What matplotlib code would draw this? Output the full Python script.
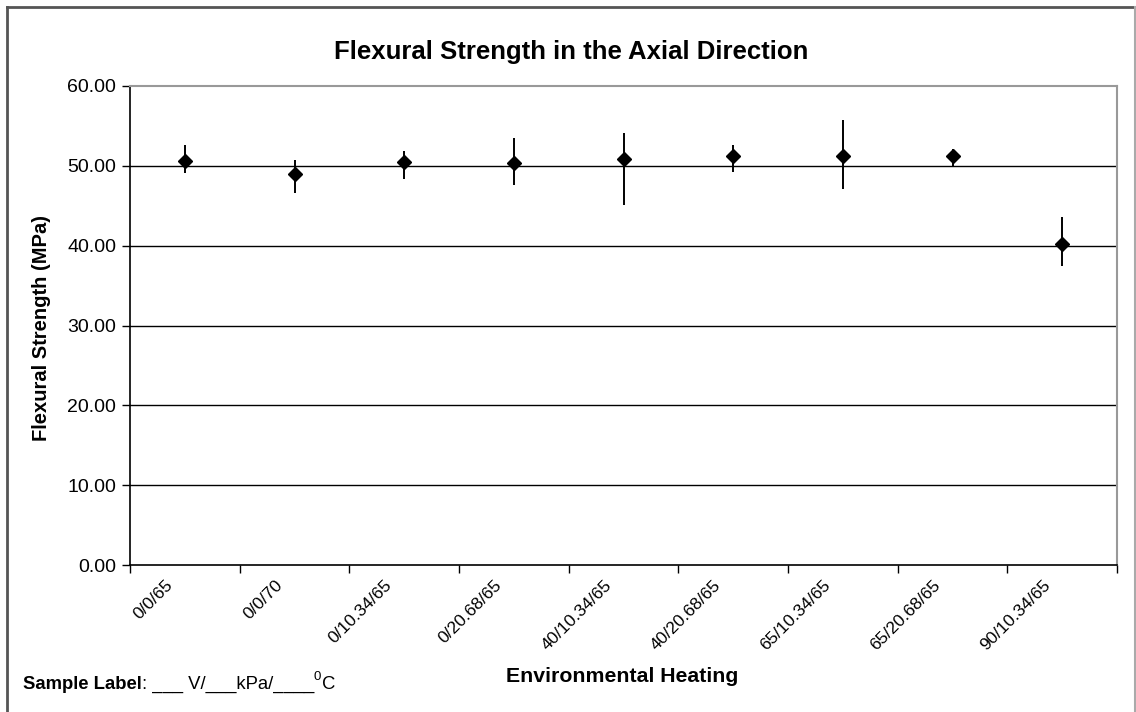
import numpy as np
import matplotlib
matplotlib.use('Agg')
import matplotlib.pyplot as plt
from matplotlib.lines import Line2D

plt.rcParams['font.family'] = ['Liberation Sans', 'DejaVu Sans']

# sample labels: V / kPa / degC
samples = ['0/0/65', '0/0/70', '0/10.34/65', '0/20.68/65', '40/10.34/65',
           '40/20.68/65', '65/10.34/65', '65/20.68/65', '90/10.34/65']
strength = [50.66, 49.0, 50.5, 50.33, 50.84, 51.17, 51.17, 51.17, 40.2]
err_low = [1.6, 2.4, 2.2, 2.7, 5.7, 1.9, 4.1, 1.2, 2.7]
err_high = [1.9, 1.7, 1.4, 3.1, 3.3, 1.4, 4.6, 1.0, 3.4]
yticks = [0, 10, 20, 30, 40, 50, 60]

W, H = 1136, 712
fig = plt.figure(figsize=(W / 100, H / 100), dpi=100)
ax = fig.add_axes([130 / W, (H - 565) / H, (1117 - 130) / W, (565 - 86) / H])

x = np.arange(len(samples))
ax.errorbar(x, strength, yerr=[err_low, err_high], fmt='D', color='black',
            ms=7, elinewidth=1.4, capsize=0, zorder=3)

ax.set_xlim(-0.5, len(samples) - 0.5)
ax.set_ylim(0, 60)
ax.set_yticks(yticks)
ax.set_yticklabels(['%.2f' % v for v in yticks], fontsize=14)
for v in yticks[1:-1]:
    ax.axhline(v, color='black', lw=1, zorder=1)

# category boundaries get the tick marks, names sit in between
# (nudged a little left so the slanted text ends under the category)
ax.set_xticks(np.arange(len(samples) + 1) - 0.5)
ax.set_xticklabels([])
ax.set_xticks(x - 0.18, minor=True)
ax.set_xticklabels(samples, minor=True, rotation=45, ha='right', va='top',
                   rotation_mode='anchor', fontsize=12.5)
ax.tick_params(axis='x', which='minor', length=0, pad=9)
ax.tick_params(axis='both', which='major', direction='out', length=6, width=1)
ax.tick_params(axis='y', pad=4)

for s in ['top', 'right']:
    ax.spines[s].set_color('#999999')
    ax.spines[s].set_linewidth(1.5)
for s in ['left', 'bottom']:
    ax.spines[s].set_color('black')
    ax.spines[s].set_linewidth(1.2)

fig.text(571 / W, 1 - 52 / H, 'Flexural Strength in the Axial Direction',
         ha='center', va='center', fontsize=18.5, fontweight='bold')
fig.text(42 / W, 1 - 328 / H, 'Flexural Strength (MPa)', rotation=90,
         ha='center', va='center', fontsize=14.5, fontweight='bold')
fig.text(622 / W, 1 - 677 / H, 'Environmental Heating',
         ha='center', va='center', fontsize=15.3, fontweight='bold')

t = fig.text(23 / W, 1 - 689 / H, 'Sample Label', fontsize=13.3,
             fontweight='bold', va='baseline')
t2 = ax.annotate(': ___ V/___kPa/____', xy=(1, 0), xycoords=t,
                 va='bottom', fontsize=13.3)
ax.annotate('0', xy=(1, 0.6), xycoords=t2, va='bottom', fontsize=9.5)
ax.annotate('C', xy=(1, 0), xycoords=t2, xytext=(6, 0),
            textcoords='offset points', va='bottom', fontsize=13.3)

# outer chart border
fig.add_artist(Line2D([7 / W, 1135 / W], [1 - 7 / H, 1 - 7 / H], color='#555555', lw=2))
fig.add_artist(Line2D([7 / W, 7 / W], [0, 1 - 7 / H], color='#555555', lw=2))
fig.add_artist(Line2D([1135 / W, 1135 / W], [0, 1 - 7 / H], color='#aaaaaa', lw=1.5))

fig.savefig('out.png', dpi=100)
